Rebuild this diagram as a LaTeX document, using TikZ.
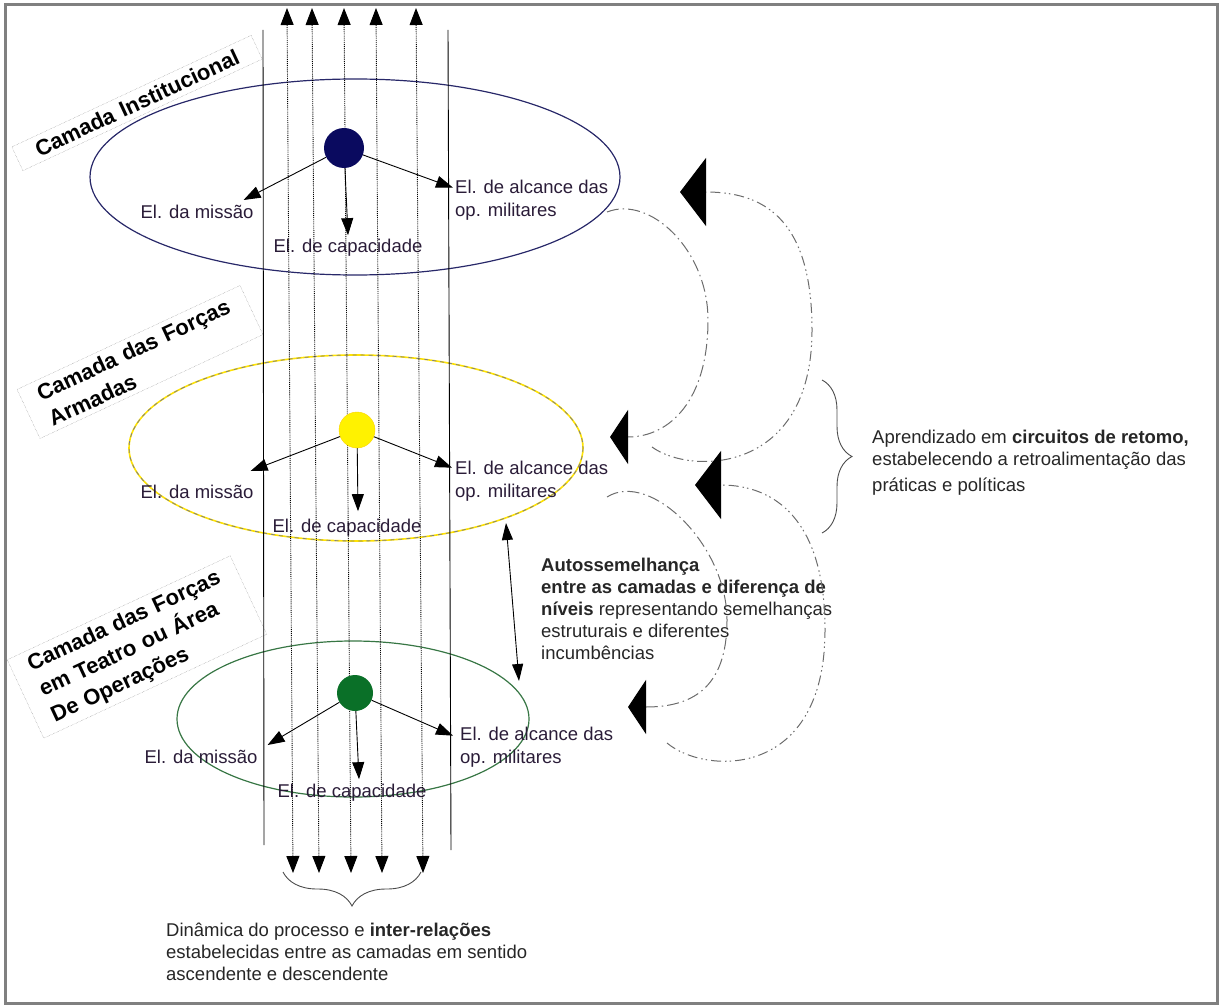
\documentclass[tikz,border=0pt]{standalone}
\usepackage{fontspec}
\setmainfont{Liberation Sans}
\usepackage{tikz}
\usetikzlibrary{arrows.meta, decorations.pathreplacing}

\definecolor{navy}{RGB}{10,10,95}
\definecolor{navyline}{RGB}{40,40,105}
\definecolor{grn}{RGB}{10,112,40}
\definecolor{grnline}{RGB}{55,118,68}
\definecolor{lbl}{RGB}{42,28,56}

\tikzstyle{arrow} = [line width=0.9pt, -{Triangle[length=17pt,width=12pt]}]
\tikzstyle{both} = [line width=0.9pt, {Triangle[length=17pt,width=11pt]}-{Triangle[length=17pt,width=11pt]}]
\tikzstyle{flow} = [line width=0.9pt, densely dotted, {Triangle[length=17pt,width=13pt]}-{Triangle[length=17pt,width=13pt]}]
\tikzstyle{ball} = [circle, inner sep=0pt, minimum size=36pt]
\tikzstyle{el} = [inner sep=0pt, text=lbl, font=\fontsize{18.5}{23}\selectfont]
\tikzstyle{note} = [inner sep=0pt, text=black!85, align=left, font=\fontsize{18.5}{22}\selectfont]
\tikzstyle{camada} = [draw=gray, densely dotted, rotate=25, align=left, text width=212pt, inner xsep=17pt, inner ysep=5pt, font=\bfseries\fontsize{22}{28}\selectfont]
\tikzstyle{fb} = [gray!85!black, line width=1pt]
\tikzstyle{fbbig} = [fb, dash pattern=on 10pt off 4pt on 1.5pt off 3pt on 1.5pt off 4pt, -{Triangle[length=26pt,width=68pt,color=black]}]
\tikzstyle{fbsmall} = [fb, dash pattern=on 12pt off 4pt on 1.5pt off 4pt, -{Triangle[length=18pt,width=54pt,color=black]}]
\tikzstyle{chave} = [decorate, line width=0.9pt, gray!60!black]

\begin{document}
\begin{tikzpicture}[x=1pt, y=-1pt]
\useasboundingbox (0,0) rectangle (1222,1008);
\draw[gray, line width=3pt] (5,5) rectangle (1217,1003);

% the three layers
\draw[navyline, line width=1.2pt] (355,177) ellipse (265 and 98);
\draw[yellow!85!orange, line width=1.6pt] (356,448) ellipse (227 and 93);
\draw[gray, line width=0.8pt, dash pattern=on 4pt off 4pt] (356,448) ellipse (227 and 93);
\draw[grnline, line width=1.2pt] (353,719) ellipse (176 and 78);

\node[camada, text width=230pt, align=center] (inst) at (137,103) {Camada Institucional};
\node[camada] (fa) at (140,362) {Camada das Forças\\Armadas};
\node[camada] (to) at (137,647) {Camada das Forças\\em Teatro ou Área\\De Operações};

% labels of each layer
\node[el] (mis1) at (197,212) {El. da missão};
\node[el] (cap1) at (348,248) {El. de capacidade};
\node[el, anchor=west, align=left] (alc1) at (455,200) {El. de alcance das\\op. militares};

\node[el] (mis2) at (197,492) {El. da missão};
\node[el] (cap2) at (347,528) {El. de capacidade};
\node[el, anchor=west, align=left] (alc2) at (455,481) {El. de alcance das\\op. militares};

\node[el] (mis3) at (201,757) {El. da missão};
\node[el] (cap3) at (352,793) {El. de capacidade};
\node[el, anchor=west, align=left] (alc3) at (460,747) {El. de alcance das\\op. militares};

% ascending and descending flow
\draw[line width=0.9pt] (263,30) -- (264,845);
\draw[line width=0.9pt] (448,30) -- (451,850);
\foreach \n/\a/\b in {1/287/293, 2/312/319, 3/344/351, 4/376/382, 5/416/423} {
  \coordinate (up\n) at (\a,8);
  \coordinate (dn\n) at (\b,873);
  \draw[flow] (dn\n) -- (up\n);
}

\node[ball, fill=navy, minimum size=40pt] (c1) at (344,148) {};
\node[ball, fill=yellow, draw=yellow!70!orange, thin] (c2) at (357,430) {};
\node[ball, fill=grn] (c3) at (355,693) {};

\draw[arrow] (c1) -- ([xshift=-10pt,yshift=5pt]mis1.north east);
\draw[arrow] (c1) -- ([yshift=4pt]cap1.north);
\draw[arrow] (c1) -- ([xshift=-2pt,yshift=-8pt]alc1.north west);

\draw[arrow] (c2) -- ([xshift=-3pt,yshift=14pt]mis2.north east);
\draw[arrow] (c2) -- ([xshift=11pt,yshift=8pt]cap2.north);
\draw[arrow] (c2) -- ([xshift=-3pt,yshift=-7pt]alc2.north west);

\draw[arrow] (c3) -- ([xshift=10pt,yshift=5pt]mis3.north east);
\draw[arrow] (c3) -- ([xshift=7pt,yshift=5pt]cap3.north);
\draw[arrow] (c3) -- ([xshift=-7pt,yshift=-9pt]alc3.north west);

% self-similarity between layers
\coordinate (sim1) at (506,523);
\coordinate (sim2) at (519,681);
\draw[both] (sim1) -- (sim2);
\node[note, anchor=west] (auto) at (541,609) {\textbf{Autossemelhança}\\\textbf{entre as camadas e diferença de}\\\textbf{níveis} representando semelhanças\\estruturais e diferentes\\incumbências};

% feedback loops
\coordinate (fa1) at (652,447);  \coordinate (ta1) at (680,192);
\coordinate (fb1) at (667,743);  \coordinate (tb1) at (695,485);
\coordinate (fc1) at (607,212);  \coordinate (tc1) at (610,437);
\coordinate (fd1) at (607,497);  \coordinate (td1) at (628,707);
\draw[fbbig] (fa1) .. controls (690,475) and (812,475) .. (812,330) .. controls (812,215) and (760,192) .. (ta1);
\draw[fbbig] (fb1) .. controls (705,775) and (825,780) .. (825,630) .. controls (825,520) and (775,485) .. (tb1);
\draw[fbsmall] (fc1) .. controls (650,195) and (708,250) .. (708,320) .. controls (708,400) and (670,437) .. (tc1);
\draw[fbsmall] (fd1) .. controls (650,470) and (727,545) .. (727,620) .. controls (727,690) and (690,707) .. (td1);

\draw[chave, decoration={brace, amplitude=30pt}] (822,380) -- (822,533);
\node[note, anchor=west] (retro) at (872,463) {Aprendizado em \textbf{circuitos de retomo,}\\estabelecendo a retroalimentação das\\[4pt]práticas e políticas};

\draw[chave, decoration={brace, amplitude=34pt}] (421,872) -- (283,872);
\node[note, anchor=west] (din) at (166,952) {Dinâmica do processo e \textbf{inter-relações}\\estabelecidas entre as camadas em sentido\\ascendente e descendente};
\end{tikzpicture}
\end{document}
